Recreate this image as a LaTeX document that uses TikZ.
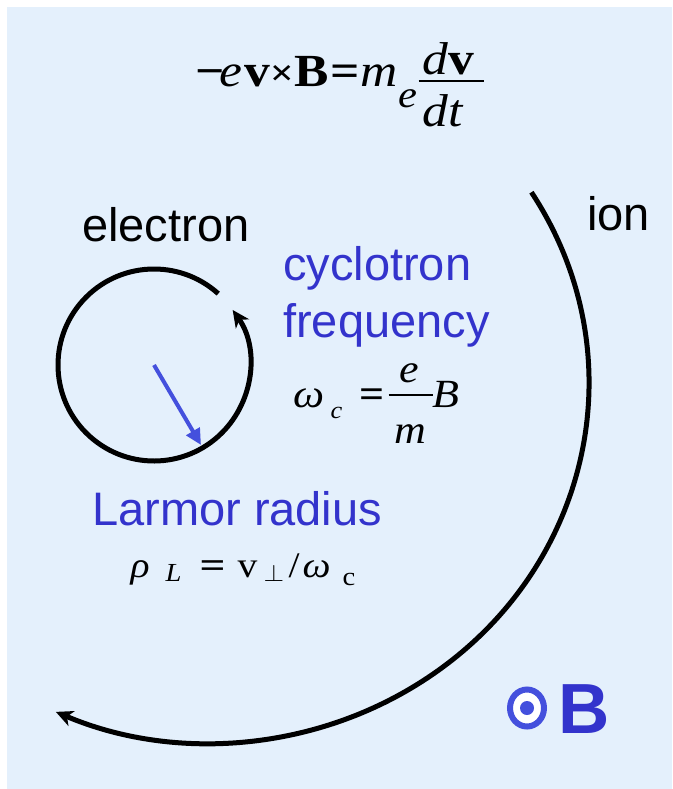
\RequirePackage{fix-cm}
\documentclass[tikz,border=0pt]{standalone}
\usepackage{fontspec}
\setmainfont{Liberation Serif}
\newfontfamily\arialf{Liberation Sans}
\usetikzlibrary{arrows.meta}
\definecolor{bgblue}{RGB}{228,240,252}
\definecolor{txtblue}{RGB}{51,51,204}
\definecolor{arrblue}{RGB}{68,80,221}
% place #3 at offset (#1 right, #2 up) from the formula origin, zero width
\newcommand{\xsc}{1}
\newcommand{\putat}[3]{\rlap{\hspace{#1pt}\raisebox{#2pt}{\scalebox{\xsc}[1]{#3}}}}
\newcommand{\putbar}[4]{\rlap{\hspace{#1pt}\raisebox{#3pt}{\rule{#2pt}{#4pt}}}}
\newcommand{\fs}[1]{\fontsize{#1}{#1}\selectfont}
\begin{document}
\begin{tikzpicture}[x=1pt,y=1pt,
  lbl/.style={inner sep=0pt, anchor=base west, font=\arialf\fontsize{47}{50}\selectfont},
  eqn/.style={inner sep=0pt, anchor=base west},
  orbit/.style={line width=5pt, black},
  tipblack/.style={-{Stealth[length=17pt,width=16pt,inset=5pt]}},
  radarrow/.style={line width=4pt, arrblue, -{Triangle[length=16pt,width=15pt]}}
]
\useasboundingbox (0,0) rectangle (672,-789);
\fill[bgblue] (7,-7) rectangle (672,-789);

% top equation  -e v x B = m_e dv/dt
\node[eqn] (force) at (195,-87) {\fs{46}\renewcommand{\xsc}{1.12}%
  \putat{0}{0}{\bfseries −}%
  \putat{24}{0}{\itshape e}%
  \putat{49}{0}{\bfseries v}%
  \putat{75}{1}{\fs{37}\bfseries ×}%
  \putat{99}{0}{\bfseries B}%
  \putat{135}{0}{\bfseries =}%
  \putat{165}{0}{\itshape m}%
  \putat{203}{-21}{\fs{38}\itshape e}%
  \putbar{223}{65}{5}{2.2}%
  \putat{227}{12}{\itshape d\upshape\bfseries v}%
  \putat{227}{-40}{\itshape dt}%
  \hspace{288pt}};

% labels
\node[lbl] (electron) at (82,-241) {electron};
\node[lbl] (ion) at (587,-230) {ion};
\node[lbl, text=txtblue] (cyc) at (283,-280) {cyclotron};
\node[lbl, text=txtblue] (freq) at (283,-337) {frequency};
\node[lbl, text=txtblue] (larmor) at (92,-525) {Larmor radius};

% cyclotron frequency  omega_c = e/m B
\node[eqn] (omega) at (293,-407) {\fs{40}\renewcommand{\xsc}{1.1}%
  \putat{0}{0}{\itshape ω}%
  \putat{37}{-11}{\fs{24}\itshape c}%
  \putat{66}{0}{\bfseries =}%
  \putbar{95}{44}{11}{2}%
  \putat{106}{25}{\itshape e}%
  \putat{101}{-36}{\itshape m}%
  \putat{139}{0}{\itshape B}%
  \hspace{170pt}};

% Larmor radius  rho_L = v_perp / omega_c
\node[eqn] (rho) at (130,-577) {\fs{36}\renewcommand{\xsc}{1.1}%
  \putat{0}{0}{\itshape ρ}%
  \putat{35}{-4}{\fs{26}\itshape L}%
  \putat{69}{0}{\bfseries\scalebox{1.15}[1]{=}}%
  \putat{107}{0}{v}%
  \putat{133}{-4}{\fs{24}$\perp$}%
  \putat{158}{0}{/}%
  \putat{172}{0}{\itshape ω}%
  \putat{212}{-8}{\fs{26}c}%
  \hspace{228pt}};

% electron orbit
\coordinate (ecen) at (154,-365);
\draw[orbit, tipblack] (ecen) ++(48:96) arc[start angle=48, end angle=395, radius=96];
\coordinate (rtip) at (201,-445);
\draw[radarrow] (ecen) -- (rtip);

% ion orbit
\coordinate (icen) at (210,-383);
\draw[orbit, tipblack] (icen) ++(32:379 and 360) arc[start angle=32, end angle=-114, x radius=379, y radius=360];

% B out of page
\coordinate (bdot) at (527,-708);
\draw[arrblue, line width=6pt, fill=white] (bdot) ellipse[x radius=17, y radius=18.5];
\fill[arrblue] (bdot) circle[radius=7];
\node[inner sep=0pt, anchor=base west, text=txtblue, font=\arialf\bfseries\fontsize{71}{75}\selectfont] (Bfield) at (558,-733) {B};
\end{tikzpicture}
\end{document}
